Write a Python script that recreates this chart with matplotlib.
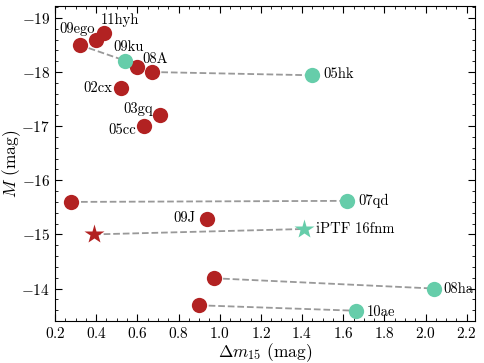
import matplotlib
matplotlib.use('Agg')
import matplotlib.pyplot as plt
from matplotlib.ticker import MultipleLocator

plt.rcParams['font.family'] = 'serif'
plt.rcParams['font.serif'] = ['cmr10']
plt.rcParams['mathtext.fontset'] = 'cm'
plt.rcParams['axes.formatter.use_mathtext'] = True

# red = one set, teal = the other; dashed lines join pairs
red_dm15 = [0.32, 0.40, 0.44, 0.60, 0.67, 0.52, 0.71, 0.63, 0.28, 0.94, 0.97, 0.90]
red_M = [-18.50, -18.59, -18.72, -18.10, -18.00, -17.70, -17.20, -17.00,
         -15.60, -15.29, -14.19, -13.69]
teal_dm15 = [0.54, 1.45, 1.62, 2.04, 1.66]
teal_M = [-18.21, -17.94, -15.62, -14.00, -13.59]
star_red = (0.39, -15.0)
star_teal = (1.41, -15.1)
pairs = [(0, 0), (4, 1), (8, 2), (10, 3), (11, 4)]

# label, x, y, offset (pt), ha
labels = [
    ('09ego', red_dm15[0], red_M[0], (-2, 11.5), 'center'),
    ('11hyh', red_dm15[2], red_M[2], (11, 9.6), 'center'),
    ('09ku', teal_dm15[0], teal_M[0], (2.4, 10), 'center'),
    ('08A', red_dm15[4], red_M[4], (2.7, 9), 'center'),
    ('05hk', teal_dm15[1], teal_M[1], (7.6, 0.5), 'left'),
    ('02cx', red_dm15[5], red_M[5], (-6.5, 0), 'right'),
    ('03gq', red_dm15[6], red_M[6], (-16, 4.3), 'center'),
    ('05cc', red_dm15[7], red_M[7], (-15, -2.9), 'center'),
    ('07qd', teal_dm15[2], teal_M[2], (8, 0), 'left'),
    ('09J', red_dm15[9], red_M[9], (-8.4, 0.4), 'right'),
    ('iPTF 16fnm', star_teal[0], star_teal[1], (8.6, 0), 'left'),
    ('08ha', teal_dm15[3], teal_M[3], (7, -0.7), 'left'),
    ('10ae', teal_dm15[4], teal_M[4], (8.4, -1.2), 'left'),
]

red = '#b22222'
teal = '#66cdaa'

fig = plt.figure(figsize=(4.84, 3.63), dpi=100)
ax = fig.add_axes([0.1136, 0.1157, 0.8678, 0.8678])

for i, j in pairs:
    ax.plot([red_dm15[i], teal_dm15[j]], [red_M[i], teal_M[j]],
            ls='--', c='#999999', lw=1.3, zorder=1)
ax.plot([star_red[0], star_teal[0]], [star_red[1], star_teal[1]],
        ls='--', c='#999999', lw=1.3, zorder=1)

ax.plot(red_dm15, red_M, 'o', c=red, ms=11, mec='none', zorder=3)
ax.plot(teal_dm15, teal_M, 'o', c=teal, ms=11, mec='none', zorder=3)
ax.plot(*star_red, '*', c=red, ms=15, mec='none', zorder=3)
ax.plot(*star_teal, '*', c=teal, ms=15, mec='none', zorder=3)

for text, x, y, off, ha in labels:
    ax.annotate(text, (x, y), xytext=off, textcoords='offset points',
                ha=ha, va='center', fontsize=10.5)

ax.set_xlim(0.2, 2.24)
ax.set_ylim(-13.4, -19.22)
ax.xaxis.set_major_locator(MultipleLocator(0.2))
ax.xaxis.set_minor_locator(MultipleLocator(0.05))
ax.yaxis.set_major_locator(MultipleLocator(1))
ax.yaxis.set_minor_locator(MultipleLocator(0.2))
ax.tick_params(which='both', direction='in', top=True, right=True, labelsize=11)
ax.tick_params(which='major', length=5)
ax.tick_params(which='minor', length=2.5)

ax.set_xlabel(r'$\Delta m_{15}$ (mag)', fontsize=12.5, labelpad=0)
ax.set_ylabel(r'$M$ (mag)', fontsize=12.5, labelpad=-1)

fig.savefig('out.png', dpi=100)
